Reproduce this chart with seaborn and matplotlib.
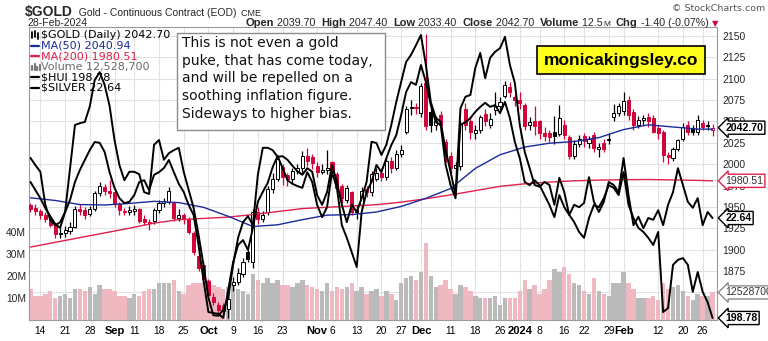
import numpy as np
import pandas as pd
import matplotlib
matplotlib.use("Agg")
import matplotlib.pyplot as plt
from matplotlib.patches import Rectangle
from matplotlib.lines import Line2D
from matplotlib.transforms import IdentityTransform, blended_transform_factory
import seaborn as sns

# ---------------- data ----------------
market_closed = ["2023-09-04", "2023-11-23", "2023-12-25", "2024-01-01", "2024-01-15", "2024-02-19"]

gold_open = [1952,1949,1945,1941,1937,1929,1918,1919,1922,1927,
             1948,1946,1942,1948,1966,1973,1969,1967,1953,1945,
             1944,1945,1947,1936,1932,1933,1946,1954,1956,1954,
             1937,1941,1936,1920,1893,1882,1863,1845,1835,1834,
             1831,1858,1862,1872,1897,1885,1944,1936,1944,1971,
             1983,1997,1987,1983,1992,1995,2010,2008,1998,1991,
             1993,2002,1989,1975,1958,1967,1944,1952,1971,1967,
             1983,1990,1985,2004,1996,2012,2038,2066,2067,2060,
             2095,2061,2046,2058,2026,2010,1996,1998,2065,2050,
             2036,2040,2059,2046,2063,2068,2080,2090,2079,2075,
             2069,2046,2050,2050,2036,2036,2038,2035,2046,2032,
             2010,2024,2033,2025,2034,2018,2025,2028,2055,2060,
             2062,2075,2061,2046,2052,2055,2054,2042,2038,2011,
             2007,2018,2030,2046,2042,2038,2048,2046,2039.7]
gold_high = [1955,1953,1948,1944,1940,1931,1925,1928,1932,1951,
             1953,1950,1951,1969,1979,1977,1982,1969,1956,1949,
             1951,1952,1949,1940,1936,1949,1958,1960,1973,1955,
             1947,1943,1938,1922,1896,1887,1866,1849,1839,1838,
             1848,1868,1878,1890,1900,1947,1950,1945,1975,1990,
             2010,2000,1990,1996,2000,2015,2019,2012,2002,2000,
             2016,2004,1991,1977,1976,1969,1952,1973,1975,1992,
             1995,1995,2008,2008,2016,2022,2068,2075,2072,2095,
             2152,2066,2056,2062,2030,2014,2003,2052,2072,2055,
             2046,2058,2065,2060,2085,2078,2097,2096,2082,2085,
             2071,2055,2068,2052,2043,2040,2056,2069,2052,2034,
             2028,2034,2036,2033,2038,2025,2030,2036,2070,2072,
             2084,2080,2064,2056,2058,2060,2058,2046,2040,2014,
             2020,2030,2048,2050,2046,2057,2052,2050,2047.4]
gold_low = [1944,1941,1936,1932,1926,1914,1914,1915,1918,1925,
            1940,1936,1939,1945,1963,1964,1960,1950,1941,1940,
            1941,1941,1931,1929,1923,1930,1943,1950,1953,1933,
            1934,1930,1918,1894,1875,1862,1844,1835,1825,1823,
            1820,1852,1859,1868,1885,1879,1930,1932,1940,1966,
            1980,1976,1975,1978,1988,1990,1998,1994,1985,1988,
            1989,1985,1968,1955,1954,1940,1936,1948,1961,1963,
            1980,1980,1982,1990,1993,2008,2035,2058,2059,2055,
            2040,2038,2040,2040,2003,1990,1985,1993,2040,2030,
            2030,2036,2045,2042,2058,2063,2077,2078,2068,2064,
            2040,2040,2034,2030,2027,2026,2024,2033,2030,2006,
            2006,2020,2020,2019,2014,2008,2014,2024,2050,2056,
            2058,2052,2040,2042,2046,2044,2036,2030,2003,2000,
            2004,2015,2027,2034,2034,2034,2040,2040,2033.4]
gold_close = [1948,1945,1940,1936,1929,1918,1920,1923,1927,1948,
              1945,1941,1947,1966,1974,1968,1966,1953,1946,1944,
              1946,1948,1934,1932,1931,1946,1955,1957,1969,1937,
              1941,1936,1921,1897,1878,1866,1847,1839,1829,1828,
              1842,1862,1873,1886,1889,1944,1936,1940,1971,1983,
              2006,1985,1983,1992,1995,2010,2004,2001,1991,1993,
              1995,1991,1972,1960,1972,1944,1946,1969,1967,1989,
              1990,1985,2004,1995,2012,2017,2064,2067,2066,2092,
              2045,2046,2050,2046,2010,1995,1999,2047,2046,2038,
              2040,2055,2050,2053,2068,2073,2093,2085,2075,2071,
              2045,2049,2045,2036,2033,2032,2033,2054,2034,2010,
              2024,2030,2027,2029,2019,2020,2018,2030,2060,2068,
              2074,2057,2046,2052,2054,2050,2038,2036,2011,2008,
              2018,2028,2044,2038,2038,2052,2044,2044.1,2042.7]
volume_m = [14,11,11,12,13,10,11,12,10,14,
            14,13,15,12,16,14,14,13,11,11,
            10,12,11,13,14,14,17,17,17,18,
            13,12,16,17,17,17,18,16,15,14,
            15,17,14,13,12,21,18,17,19,17,
            18,16,16,15,17,18,16,15,14,13,
            17,13,15,14,15,17,13,15,12,13,
            14,11,13,12,9,17,19,20,18,22,
            35,20,15,16,18,14,12,16,15,13,
            11,10,10,10,11,7,10,10,10,13,
            18,14,16,12,14,18,23,22,24,21,
            17,16,13,12,19,13,12,11,17,17,
            22,17,14,10,10,10,11,9,17,14,
            15,16,13,11,9,12,11,11,12.5287]
silver = [23.64,23.52,23.41,22.86,22.61,22.52,22.57,22.74,23.47,24.19,
          24.22,24.24,24.50,24.94,25.07,24.86,24.51,23.94,23.52,23.27,
          23.41,23.41,23.37,23.07,23.04,23.86,23.94,23.61,23.72,23.77,
          23.81,23.41,23.11,22.81,22.36,21.86,21.31,21.02,21.01,21.11,
          21.31,21.86,22.31,22.57,22.67,22.52,23.36,23.81,23.81,23.77,
          23.66,23.67,23.61,23.51,23.42,23.36,23.47,23.41,23.02,22.86,
          23.07,23.52,23.24,22.86,22.57,22.86,22.74,22.97,23.24,23.91,
          23.89,23.69,23.86,24.19,24.57,24.91,25.24,25.36,25.52,25.69,
          25.19,24.57,24.31,24.24,23.77,23.41,23.02,24.47,24.66,24.69,
          25.14,25.39,24.97,25.31,25.41,25.47,25.66,25.19,24.89,24.19,
          23.74,23.47,23.19,23.16,23.24,23.19,22.86,23.31,23.07,22.69,
          22.86,22.82,22.89,23.32,22.91,22.74,22.91,23.24,23.19,23.07,
          23.64,23.02,22.52,22.66,22.47,22.64,22.61,22.77,22.52,22.86,
          23.07,23.47,23.19,22.91,22.81,22.97,22.52,22.74,22.64]
hui = [229.0,227.2,225.4,223.2,221.4,219.7,218.8,222.3,225.0,229.0,
       231.7,233.9,236.1,237.9,237.7,235.7,231.2,227.7,225.4,224.3,
       224.6,226.1,229.0,229.4,227.2,230.6,231.2,232.1,233.9,231.2,
       228.6,226.8,223.9,221.7,215.0,207.2,200.1,199.9,199.7,198.8,
       205.0,211.2,215.0,216.1,213.9,218.8,224.6,226.8,228.8,232.3,
       234.8,232.1,229.4,228.6,228.1,227.7,231.2,229.0,223.9,221.2,
       223.4,231.2,227.7,219.4,216.6,213.4,210.1,222.3,226.8,229.0,
       232.8,231.2,234.3,237.2,239.4,243.9,249.0,251.2,250.6,255.0,
       251.2,246.1,242.3,241.7,232.8,228.3,225.4,241.7,242.3,243.2,
       244.6,245.7,246.6,245.7,246.1,244.3,246.8,243.2,237.9,234.3,
       229.0,228.3,229.4,228.3,226.1,223.9,221.2,226.1,223.4,221.7,
       220.1,217.9,216.6,221.0,223.9,223.4,225.4,228.3,227.7,226.1,
       231.2,223.9,221.0,218.8,217.9,216.6,215.0,217.9,200.1,201.0,
       210.6,211.7,212.1,210.6,204.6,209.0,204.6,202.3,198.78]
ma_dates = ["2023-08-10","2023-08-17","2023-08-24","2023-08-31","2023-09-08","2023-09-15",
            "2023-09-22","2023-09-29","2023-10-06","2023-10-13","2023-10-20","2023-10-27",
            "2023-11-03","2023-11-10","2023-11-17","2023-11-27","2023-12-04","2023-12-11",
            "2023-12-18","2023-12-26","2024-01-03","2024-01-10","2024-01-18","2024-01-25",
            "2024-02-01","2024-02-08","2024-02-15","2024-02-23","2024-02-28"]
ma50 = [1960.6,1957.5,1952.7,1952.2,1954.0,1956.5,1955.0,1949.5,1939.0,1927.0,
        1929.0,1935.0,1940.3,1941.0,1944.0,1950.5,1960.0,1971.5,1995.0,2011.0,
        2020.0,2024.5,2026.5,2031.0,2040.5,2046.0,2043.5,2041.0,2040.94]
ma200 = [1903.0,1908.5,1914.0,1919.5,1925.0,1931.0,1935.0,1936.5,1938.0,1941.0,
         1944.5,1948.0,1949.5,1951.0,1952.5,1955.5,1959.5,1964.0,1969.0,1974.0,
         1977.0,1979.0,1980.5,1981.3,1981.8,1982.0,1981.5,1981.0,1980.51]
tick_dates = ["2023-08-14","2023-08-21","2023-08-28","2023-09-05","2023-09-11","2023-09-18",
              "2023-09-25","2023-10-02","2023-10-09","2023-10-16","2023-10-23","2023-11-01",
              "2023-11-06","2023-11-13","2023-11-20","2023-11-27","2023-12-01","2023-12-11",
              "2023-12-18","2023-12-26","2024-01-02","2024-01-08","2024-01-16","2024-01-22",
              "2024-01-29","2024-02-01","2024-02-12","2024-02-20","2024-02-26"]
tick_labels = ["14","21","28","Sep","11","18","25","Oct","9","16","23","Nov","6","13","20","27",
               "Dec","11","18","26","2024","8","16","22","29","Feb","12","20","26"]
month_labels = {"Sep", "Oct", "Nov", "Dec", "2024", "Feb"}
price_ticks = [1875,1900,1925,1950,1975,2000,2025,2050,2075,2100,2125,2150]
volume_ticks = [10, 20, 30, 40]

# ---------------- style ----------------
sns.set_theme(style="white")
plt.rcParams["font.family"] = ["DejaVu Sans"]
RED = "#d0053a"
MA200_RED = "#e0204c"
BLUE = "#1a2a9a"
PINK = "#f0b9c1"
GREY = "#bababa"
GRID = "#e2e2e2"
ARIAL = "Liberation Sans"

W, H = 768, 341
fig = plt.figure(figsize=(W / 100, H / 100), dpi=100)
fig.patch.set_facecolor("white")
PL, PR, PT, PB = 29, 717, 27, 320
rect = [PL / W, 1 - PB / H, (PR - PL) / W, (PB - PT) / H]
ax_vol = fig.add_axes(rect)
ax = ax_vol.twinx()
ax_s = ax_vol.twinx()
ax_h = ax_vol.twinx()

days = pd.bdate_range("2023-08-10", "2024-02-28")
days = days[~days.isin(pd.to_datetime(market_closed))]
pos = pd.Series(np.arange(len(days)), index=days)
x = pos.values.astype(float)

o = np.array(gold_open, float); hgh = np.array(gold_high, float)
low = np.array(gold_low, float); c = np.array(gold_close, float)
prev = np.concatenate([[o[0]], c[:-1]])
down = c < prev
hollow = c >= o

# grid (behind everything)
tick_pos = pos[pd.to_datetime(tick_dates)].values
ax_vol.vlines(tick_pos, 0, 1, transform=ax_vol.get_xaxis_transform(), colors=GRID, lw=0.8, zorder=0.2)
btr = blended_transform_factory(ax_vol.transAxes, ax.transData)
for p in range(1825, 2151, 25):
    ax_vol.add_line(Line2D([0, 1], [p, p], transform=btr, color=GRID, lw=0.8, zorder=0.2))

# volume
vcol = np.where(down, PINK, GREY)
ax_vol.bar(x, volume_m, width=0.9, color=vcol, linewidth=0, zorder=1)

# candles
edge = np.where(down, RED, "black")
face = np.where(hollow, "white", edge)
ax.vlines(x, low, hgh, colors=edge, lw=0.9, zorder=3)
ax.bar(x, np.maximum(np.abs(c - o), 0.7), bottom=np.minimum(o, c), width=0.62,
       color=face, edgecolor=edge, linewidth=0.7, zorder=4)

# moving averages
mx = pos[pd.to_datetime(ma_dates)].values
sns.lineplot(x=mx, y=ma200, ax=ax, color=MA200_RED, lw=1.0, zorder=5)
sns.lineplot(x=mx, y=ma50, ax=ax, color=BLUE, lw=1.0, zorder=5)

# overlays
sns.lineplot(x=x, y=silver, ax=ax_s, color="black", lw=1.4, zorder=6)
sns.lineplot(x=x, y=hui, ax=ax_h, color="black", lw=1.4, zorder=6)

# limits
ax_vol.set_xlim(-0.3, 138.9)
ax_vol.set_ylim(0, 133.2)
ax.set_ylim(1817.6, 2160.5)
ax_s.set_ylim(20.94, 25.823)
ax_h.set_ylim(198.336, 263.45)

for a in (ax_vol, ax, ax_s, ax_h):
    a.set_xlabel(""); a.set_ylabel("")
for a in (ax, ax_s, ax_h):
    for sp in a.spines.values():
        sp.set_visible(False)
for sp in ax_vol.spines.values():
    sp.set_color("#9a9a9a"); sp.set_linewidth(0.8)
ax_s.set_yticks([]); ax_h.set_yticks([])

# x ticks
ax_vol.set_xticks(tick_pos)
ax_vol.set_xticklabels(tick_labels)
for t in ax_vol.get_xticklabels():
    bold = t.get_text() in month_labels
    t.set_fontfamily(ARIAL)
    t.set_fontsize(8 if bold else 7.4)
    t.set_fontweight("bold" if bold else "normal")
    t.set_color("black")
ax_vol.tick_params(axis="x", length=0, pad=4)

# volume y ticks (left)
ax_vol.set_yticks(volume_ticks)
ax_vol.set_yticklabels([f"{v}M" for v in volume_ticks], fontfamily=ARIAL, fontsize=7.4)
ax_vol.tick_params(axis="y", length=0, pad=2)

# price y ticks (right)
ax.set_yticks(price_ticks)
ax.set_yticklabels([str(p) for p in price_ticks], fontfamily=ARIAL, fontsize=7.5)
ax.tick_params(axis="y", length=0, pad=4)

# right-side value tags
def tag(axis, val, s, ec, tc="black", weight="bold"):
    axis.annotate(s, xy=(1, val), xycoords=("axes fraction", "data"), xytext=(6, 0),
                  textcoords="offset points", ha="left", va="center", fontsize=7.6,
                  fontweight=weight, color=tc, fontfamily=ARIAL, annotation_clip=False,
                  zorder=20, bbox=dict(boxstyle="larrow,pad=0.15", fc="white", ec=ec, lw=1.0))

tag(ax, gold_close[-1], f"{gold_close[-1]:.2f}", "black")
tag(ax, ma200[-1], f"{ma200[-1]:.2f}", MA200_RED, tc="#333333", weight="normal")
tag(ax_s, silver[-1], f"{silver[-1]:.2f}", "black")
tag(ax_vol, volume_m[-1], f"{round(volume_m[-1] * 1e6):d}", "#8a8a8a", tc="#333333", weight="normal")
tag(ax_h, hui[-1], f"{hui[-1]:.2f}", "black")

# ---------------- header texts ----------------
ID = IdentityTransform()
renderer = fig.canvas.get_renderer()

def chain(pieces, x0, y, align="left", x_end=None):
    objs, cur = [], x0
    for s, kw in pieces:
        t = fig.text(cur, H - y, s, transform=ID, ha="left", va="baseline", **kw)
        w = t.get_window_extent(renderer).width
        objs.append((t, cur))
        cur += w
    if align == "right":
        shift = x_end - cur
        for t, xx in objs:
            t.set_x(xx + shift)

chain([("$GOLD", dict(fontfamily=ARIAL, fontsize=10, fontweight="bold")),
       ("  Gold - Continuous Contract (EOD)", dict(fontfamily=ARIAL, fontsize=7.5)),
       ("  CME", dict(fontfamily=ARIAL, fontsize=6.5))], 25, 16)
fig.text(27, H - 26.5, "28-Feb-2024", transform=ID, fontfamily=ARIAL, fontsize=7.5, va="baseline")

B = dict(fontfamily=ARIAL, fontsize=8, fontweight="bold")
R = dict(fontfamily=ARIAL, fontsize=7.7)
chain([("Open", B), (" 2039.70  ", R), ("High", B), (" 2047.40  ", R), ("Low", B),
       (" 2033.40  ", R), ("Close", B), (" 2042.70  ", R), ("Volume", B), (" 12.5", R),
       ("M", dict(fontfamily=ARIAL, fontsize=6)), ("  ", R), ("Chg", B),
       (" -1.40 (-0.07%) ", R), ("\u25BC", dict(fontfamily="DejaVu Sans", fontsize=6, color=RED))],
      0, 26.5, align="right", x_end=718)
fig.text(765, H - 11, "\u00A9 StockCharts.com", transform=ID, ha="right", va="baseline",
         fontfamily="DejaVu Sans", fontsize=6.8, color="#555555")

# ---------------- legend ----------------
leg_items = [("$GOLD (Daily) 2042.70", "black", "candle"),
             ("MA(50) 2040.94", BLUE, "line"),
             ("MA(200) 1980.51", MA200_RED, "line"),
             ("Volume 12,528,700", "#6a6a6a", "bars"),
             ("$HUI 198.78", "black", "line"),
             ("$SILVER 22.64", "black", "line")]
for k, (s, col, kind) in enumerate(leg_items):
    yy = H - (35 + 10.6 * k)
    fig.text(41, yy, s, transform=ID, ha="left", va="center", fontsize=8, color=col,
             fontfamily="DejaVu Sans")
    if kind == "line":
        fig.add_artist(Line2D([31, 39], [yy, yy], transform=ID, color=col, lw=1.6))
    elif kind == "candle":
        for xx, h0, h1 in ((32, -3, 3), (35, -2, 4), (38, -4, 2)):
            fig.add_artist(Line2D([xx, xx], [yy + h0, yy + h1], transform=ID, color="black", lw=1.3))
    else:
        for xx, hh in ((32, 4), (34.5, 6), (37, 3.5), (39.5, 5)):
            fig.add_artist(Line2D([xx, xx], [yy - 3.5, yy - 3.5 + hh], transform=ID, color="#777777", lw=1.6))

# ---------------- annotation boxes ----------------
fig.add_artist(Rectangle((177, H - 130), 208, 97, transform=ID, fc="white", ec="#8c8c8c", lw=1.0, zorder=8))
fig.text(182, H - 36, "This is not even a gold\npuke, that has come today,\nand will be repelled on a\n"
         "soothing inflation figure.\nSideways to higher bias.", transform=ID, ha="left", va="top",
         fontsize=10, linespacing=1.33, color="#111111", fontfamily="DejaVu Sans", zorder=9)

fig.add_artist(Rectangle((537, H - 74), 168, 28, transform=ID, fc="#ffff1e", ec="black", lw=1.2, zorder=8))
fig.text(621, H - 60, "monicakingsley.co", transform=ID, ha="center", va="center",
         fontsize=12.5, fontweight="bold", fontfamily=ARIAL, color="black", zorder=9)

fig.savefig("out.png", dpi=100)
